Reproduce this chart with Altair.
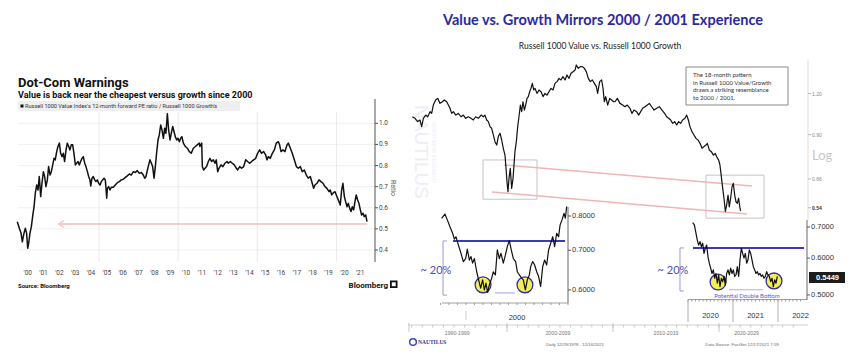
import altair as alt
import pandas as pd

# ---------------- data ----------------
LEFT_YEARS = [1999.84, 1999.97, 2000.08, 2000.16, 2000.22, 2000.29, 2000.35, 2000.43, 2000.50, 2000.56,
              2000.64, 2000.73, 2000.81, 2000.90, 2000.98, 2001.07, 2001.15, 2001.23, 2001.32, 2001.40,
              2001.49, 2001.57, 2001.65, 2001.74, 2001.82, 2001.91, 2001.99, 2002.08, 2002.16, 2002.24,
              2002.33, 2002.41, 2002.50, 2002.58, 2002.67, 2002.75, 2002.83, 2002.92, 2003.00, 2003.09,
              2003.17, 2003.25, 2003.34, 2003.42, 2003.51, 2003.59, 2003.68, 2003.76, 2003.84, 2003.93,
              2004.01, 2004.10, 2004.18, 2004.27, 2004.35, 2004.43, 2004.48, 2004.56, 2004.64, 2004.73,
              2004.81, 2004.90, 2004.98, 2005.07, 2005.15, 2005.23, 2005.32, 2005.40, 2005.44, 2005.49,
              2005.53, 2005.61, 2005.70, 2005.78, 2005.91, 2006.03, 2006.16, 2006.29, 2006.41, 2006.54,
              2006.67, 2006.79, 2006.92, 2007.04, 2007.17, 2007.30, 2007.42, 2007.55, 2007.68, 2007.80,
              2007.89, 2007.97, 2008.06, 2008.14, 2008.22, 2008.31, 2008.39, 2008.48, 2008.56, 2008.64,
              2008.73, 2008.81, 2008.90, 2008.98, 2009.07, 2009.15, 2009.23, 2009.32, 2009.40, 2009.49,
              2009.57, 2009.66, 2009.74, 2009.82, 2009.91, 2009.99, 2010.08, 2010.16, 2010.24, 2010.33,
              2010.46, 2010.58, 2010.71, 2010.83, 2010.96, 2011.09, 2011.21, 2011.34, 2011.38, 2011.49,
              2011.53, 2011.61, 2011.70, 2011.80, 2011.91, 2012.01, 2012.12, 2012.22, 2012.33, 2012.41,
              2012.50, 2012.58, 2012.71, 2012.83, 2012.96, 2013.09, 2013.17, 2013.30, 2013.42, 2013.55,
              2013.68, 2013.76, 2013.89, 2014.01, 2014.14, 2014.27, 2014.39, 2014.52, 2014.64, 2014.77,
              2014.90, 2015.02, 2015.15, 2015.27, 2015.40, 2015.53, 2015.61, 2015.70, 2015.82, 2015.95,
              2016.08, 2016.20, 2016.33, 2016.41, 2016.50, 2016.62, 2016.75, 2016.88, 2016.96, 2017.09,
              2017.21, 2017.34, 2017.47, 2017.59, 2017.72, 2017.84, 2017.97, 2018.10, 2018.22, 2018.35,
              2018.47, 2018.56, 2018.64, 2018.77, 2018.90, 2019.02, 2019.15, 2019.28, 2019.40, 2019.53,
              2019.61, 2019.70, 2019.78, 2019.91, 2020.03, 2020.16, 2020.24, 2020.33, 2020.41, 2020.50,
              2020.58, 2020.67, 2020.75, 2020.84, 2020.92, 2021.00, 2021.09, 2021.17, 2021.25, 2021.34,
              2021.42, 2021.51, 2021.59, 2021.68, 2021.76, 2021.85, 2021.93]
LEFT_VALUES = [0.534, 0.503, 0.479, 0.439, 0.463, 0.487, 0.503, 0.479, 0.408, 0.432,
               0.479, 0.511, 0.558, 0.605, 0.669, 0.708, 0.684, 0.748, 0.653, 0.716,
               0.771, 0.748, 0.700, 0.732, 0.795, 0.755, 0.771, 0.803, 0.834, 0.827,
               0.866, 0.890, 0.906, 0.858, 0.842, 0.858, 0.819, 0.874, 0.906, 0.890,
               0.874, 0.898, 0.898, 0.858, 0.803, 0.811, 0.819, 0.803, 0.819, 0.834,
               0.842, 0.811, 0.795, 0.771, 0.748, 0.732, 0.703, 0.740, 0.748, 0.732,
               0.724, 0.732, 0.716, 0.708, 0.724, 0.732, 0.740, 0.732, 0.697, 0.645,
               0.692, 0.700, 0.684, 0.697, 0.697, 0.708, 0.719, 0.724, 0.732, 0.735,
               0.744, 0.751, 0.760, 0.755, 0.771, 0.767, 0.776, 0.763, 0.767, 0.755,
               0.740, 0.748, 0.779, 0.803, 0.827, 0.811, 0.795, 0.740, 0.795, 0.858,
               0.921, 0.945, 0.992, 0.969, 0.929, 0.977, 0.953, 1.045, 0.969, 0.921,
               0.953, 0.985, 0.961, 0.937, 0.921, 0.929, 0.913, 0.929, 0.937, 0.906,
               0.890, 0.882, 0.866, 0.858, 0.882, 0.890, 0.898, 0.906, 0.890, 0.906,
               0.795, 0.779, 0.787, 0.795, 0.819, 0.834, 0.819, 0.827, 0.811, 0.827,
               0.771, 0.787, 0.803, 0.795, 0.811, 0.819, 0.811, 0.819, 0.811, 0.803,
               0.787, 0.779, 0.795, 0.787, 0.795, 0.827, 0.819, 0.811, 0.819, 0.827,
               0.834, 0.858, 0.874, 0.858, 0.866, 0.850, 0.827, 0.842, 0.834, 0.858,
               0.874, 0.906, 0.913, 0.898, 0.866, 0.874, 0.866, 0.898, 0.906, 0.882,
               0.858, 0.827, 0.795, 0.787, 0.795, 0.771, 0.779, 0.755, 0.740, 0.748,
               0.716, 0.692, 0.708, 0.716, 0.732, 0.724, 0.716, 0.700, 0.692, 0.676,
               0.684, 0.661, 0.669, 0.676, 0.653, 0.629, 0.613, 0.684, 0.716, 0.653,
               0.629, 0.605, 0.621, 0.597, 0.582, 0.605, 0.590, 0.629, 0.661, 0.637,
               0.621, 0.590, 0.566, 0.574, 0.558, 0.566, 0.534]

MAIN_YEARS = [1991.07, 1991.32, 1991.57, 1991.79, 1991.95, 1992.11, 1992.33, 1992.52, 1992.74, 1992.89,
              1993.05, 1993.27, 1993.46, 1993.68, 1993.90, 1994.09, 1994.31, 1994.47, 1994.62, 1994.78,
              1994.94, 1995.16, 1995.41, 1995.66, 1995.88, 1996.10, 1996.35, 1996.60, 1996.82, 1997.04,
              1997.30, 1997.55, 1997.77, 1997.92, 1998.08, 1998.24, 1998.40, 1998.55, 1998.71, 1998.87,
              1999.03, 1999.18, 1999.34, 1999.50, 1999.65, 1999.81, 1999.91, 2000.00, 2000.09, 2000.19,
              2000.31, 2000.44, 2000.57, 2000.66, 2000.75, 2000.88, 2001.01, 2001.13, 2001.26, 2001.38,
              2001.51, 2001.64, 2001.76, 2001.89, 2002.01, 2002.14, 2002.26, 2002.39, 2002.52, 2002.64,
              2002.83, 2003.02, 2003.21, 2003.40, 2003.58, 2003.77, 2003.96, 2004.15, 2004.34, 2004.53,
              2004.72, 2004.91, 2005.09, 2005.28, 2005.47, 2005.66, 2005.85, 2006.04, 2006.23, 2006.42,
              2006.54, 2006.73, 2006.92, 2007.11, 2007.30, 2007.48, 2007.67, 2007.86, 2008.05, 2008.24,
              2008.43, 2008.55, 2008.74, 2008.93, 2009.06, 2009.18, 2009.31, 2009.50, 2009.69, 2009.87,
              2010.06, 2010.19, 2010.41, 2010.66, 2010.91, 2011.13, 2011.35, 2011.60, 2011.79, 2011.98,
              2012.23, 2012.42, 2012.61, 2012.80, 2013.02, 2013.24, 2013.43, 2013.65, 2013.87, 2014.12,
              2014.37, 2014.62, 2014.87, 2015.06, 2015.25, 2015.44, 2015.63, 2015.82, 2016.01, 2016.19,
              2016.38, 2016.57, 2016.79, 2016.95, 2017.11, 2017.26, 2017.45, 2017.64, 2017.83, 2018.02,
              2018.21, 2018.40, 2018.58, 2018.77, 2018.90, 2019.09, 2019.28, 2019.47, 2019.65, 2019.78,
              2019.97, 2020.09, 2020.22, 2020.35, 2020.47, 2020.60, 2020.72, 2020.85, 2020.97, 2021.10,
              2021.23, 2021.35, 2021.48, 2021.60, 2021.73, 2021.85, 2021.98, 2022.04]
MAIN_VALUES = [1.020, 1.009, 0.986, 0.997, 0.952, 1.009, 1.032, 1.020, 1.057, 1.044,
               1.107, 1.147, 1.160, 1.120, 1.133, 1.147, 1.133, 1.107, 1.082, 1.044,
               1.057, 1.032, 1.044, 1.020, 1.032, 1.009, 1.020, 1.009, 0.997, 1.020,
               1.009, 1.032, 1.020, 1.032, 0.997, 0.986, 0.952, 0.941, 0.898, 0.857,
               0.837, 0.888, 0.909, 0.867, 0.818, 0.780, 0.711, 0.647, 0.604, 0.663,
               0.711, 0.618, 0.663, 0.728, 0.799, 0.857, 0.952, 1.020, 1.107, 1.057,
               1.133, 1.069, 1.107, 1.160, 1.174, 1.215, 1.244, 1.288, 1.230, 1.244,
               1.201, 1.230, 1.215, 1.174, 1.201, 1.187, 1.215, 1.244, 1.230, 1.288,
               1.304, 1.334, 1.319, 1.350, 1.319, 1.366, 1.334, 1.382, 1.398, 1.414,
               1.465, 1.431, 1.448, 1.448, 1.431, 1.398, 1.334, 1.304, 1.319, 1.288,
               1.259, 1.201, 1.304, 1.319, 1.244, 1.133, 1.174, 1.107, 1.160, 1.147,
               1.133, 1.133, 1.160, 1.120, 1.107, 1.094, 1.107, 1.082, 1.044, 1.069,
               1.057, 1.032, 1.057, 1.082, 1.094, 1.107, 1.120, 1.094, 1.069, 1.082,
               1.094, 1.069, 1.044, 1.020, 1.009, 0.997, 0.974, 0.986, 0.963, 0.986,
               0.974, 0.997, 1.009, 1.032, 0.997, 0.952, 0.919, 0.898, 0.877, 0.867,
               0.847, 0.818, 0.828, 0.837, 0.847, 0.808, 0.799, 0.780, 0.789, 0.771,
               0.753, 0.728, 0.671, 0.618, 0.577, 0.526, 0.550, 0.590, 0.543, 0.577,
               0.625, 0.640, 0.590, 0.563, 0.557, 0.577, 0.538, 0.528]

INSET1_YEARS = [1999.761, 1999.794, 1999.817, 1999.843, 1999.869, 1999.886, 1999.902, 1999.925, 1999.951, 1999.974,
                1999.997, 2000.013, 2000.033, 2000.049, 2000.065, 2000.082, 2000.105, 2000.124, 2000.144, 2000.163,
                2000.180, 2000.196, 2000.212, 2000.229, 2000.252, 2000.268, 2000.288, 2000.307, 2000.327, 2000.343,
                2000.366, 2000.386, 2000.405, 2000.425, 2000.444, 2000.464, 2000.487, 2000.503, 2000.523, 2000.546,
                2000.562, 2000.582, 2000.601, 2000.621, 2000.634, 2000.654, 2000.673, 2000.693, 2000.712, 2000.732,
                2000.752, 2000.771, 2000.791, 2000.810, 2000.830, 2000.850, 2000.869, 2000.889, 2000.908, 2000.922,
                2000.941, 2000.961, 2000.974, 2000.987]
INSET1_VALUES = [0.793, 0.806, 0.788, 0.767, 0.748, 0.731, 0.738, 0.715, 0.692, 0.670,
                 0.678, 0.703, 0.674, 0.683, 0.666, 0.678, 0.644, 0.624, 0.604, 0.624,
                 0.600, 0.616, 0.594, 0.612, 0.628, 0.644, 0.636, 0.701, 0.678, 0.692,
                 0.666, 0.687, 0.710, 0.727, 0.701, 0.678, 0.670, 0.644, 0.636, 0.628,
                 0.624, 0.600, 0.624, 0.636, 0.657, 0.670, 0.661, 0.644, 0.632, 0.608,
                 0.657, 0.674, 0.661, 0.701, 0.719, 0.738, 0.710, 0.748, 0.738, 0.772,
                 0.788, 0.808, 0.793, 0.830]

INSET2_YEARS = [2020.104, 2020.141, 2020.178, 2020.207, 2020.237, 2020.267, 2020.296, 2020.326, 2020.356, 2020.385,
                2020.415, 2020.444, 2020.474, 2020.504, 2020.533, 2020.563, 2020.593, 2020.622, 2020.652, 2020.681,
                2020.711, 2020.741, 2020.770, 2020.800, 2020.830, 2020.859, 2020.889, 2020.919, 2020.948, 2020.978,
                2021.007, 2021.037, 2021.067, 2021.096, 2021.126, 2021.156, 2021.185, 2021.215, 2021.244, 2021.274,
                2021.304, 2021.333, 2021.363, 2021.393, 2021.422, 2021.452, 2021.481, 2021.511, 2021.541, 2021.570,
                2021.600, 2021.630, 2021.659, 2021.689, 2021.719, 2021.748, 2021.778, 2021.807, 2021.837, 2021.867,
                2021.896, 2021.926, 2021.956, 2021.985]
INSET2_VALUES = [0.715, 0.707, 0.678, 0.656, 0.640, 0.651, 0.635, 0.646, 0.614, 0.630,
                 0.640, 0.604, 0.585, 0.571, 0.556, 0.566, 0.543, 0.556, 0.530, 0.552,
                 0.521, 0.543, 0.534, 0.548, 0.525, 0.556, 0.566, 0.552, 0.571, 0.556,
                 0.566, 0.548, 0.552, 0.575, 0.548, 0.595, 0.630, 0.614, 0.600, 0.614,
                 0.585, 0.595, 0.625, 0.614, 0.595, 0.575, 0.566, 0.556, 0.561, 0.552,
                 0.556, 0.548, 0.552, 0.543, 0.548, 0.561, 0.552, 0.548, 0.534, 0.543,
                 0.521, 0.539, 0.530, 0.548]

LEFT_Y_TICKS = [0.4, 0.5, 0.6, 0.7, 0.8, 0.9, 1.0]
LEFT_Y_LABELS = ["0.4", "0.5", "0.6", "0.7", "0.8", "0.9", "1.0"]
LEFT_X_LABELS = ["'00", "'01", "'02", "'03", "'04", "'05", "'06", "'07", "'08", "'09", "'10",
                 "'11", "'12", "'13", "'14", "'15", "'16", "'17", "'18", "'19", "'20", "'21"]
LEFT_X_LABEL_POS = [y + 0.5 for y in range(2000, 2022)]
LEFT_GRID_YEARS = [2005, 2010, 2015, 2020]
ARROW_LEVEL = 0.523
ARROW_START, ARROW_END = 2002.58, 2021.95

MAIN_Y_TICKS = [1.20, 0.90, 0.66, 0.54]
MAIN_Y_LABELS = ["1.20", "0.90", "0.66", "0.54"]
DECADE_TICKS = [1990.75, 2000, 2010, 2020]
DECADE_LABEL_POS = [1995.3, 2004.8, 2015.0, 2022.6]
DECADE_LABELS = ["1990-1999", "2000-2009", "2010-2019", "2020-2029"]
MINOR_YEAR_TICKS = list(range(1991, 2028))
TREND_UPPER = [(1999.72, 0.728), (2023.11, 0.628)]
TREND_LOWER = [(1998.58, 0.603), (2022.64, 0.517)]
BOX_2000 = (1997.74, 2002.83, 0.573, 0.754)
BOX_2021 = (2018.77, 2024.25, 0.502, 0.678)

INSET1_Y_TICKS = [0.8, 0.7, 0.6]
INSET1_Y_LABELS = ["0.8000", "0.7000", "0.6000"]
INSET1_RESIST = (1999.873, 2000.971, 0.726)
INSET1_FLOOR = (2000.284, 2000.48, 0.593)
INSET1_CIRCLES = [(2000.167, 0.612), (2000.578, 0.612)]
INSET1_BRACKET = (1999.775, 1999.814, 0.588, 0.726)
INSET1_MONTHS = [1999.75 + k / 12 for k in range(16)]

INSET2_Y_TICKS = [0.7, 0.6, 0.5]
INSET2_Y_LABELS = ["0.7000", "0.6000", "0.5000"]
INSET2_RESIST = (2020.111, 2022.578, 0.631)
INSET2_FLOOR = (2020.911, 2021.667, 0.513)
INSET2_CIRCLES = [(2020.667, 0.533), (2021.911, 0.536)]
INSET2_BRACKET = (2019.822, 2019.911, 0.510, 0.631)
INSET2_YEAR_SEPS = [2020, 2021, 2022]
INSET2_YEAR_LABELS = ["2020", "2021", "2022"]
INSET2_YEAR_LABEL_POS = [2020.5, 2021.5, 2022.5]
INSET2_MONTHS = [2020 + k / 12 for k in range(31)]
LAST_VALUE = 0.5449

# ---------------- helpers ----------------
M = 8  # page margin


def P(v):
    return v - M


def lin(dom, r0, r1):
    return alt.Scale(domain=dom, range=[P(r0), P(r1)], zero=False, nice=False)


def logs(dom, r0, r1):
    return alt.Scale(type="log", domain=dom, range=[P(r0), P(r1)], nice=False)


LX = lin([2000, 2022], 19.8, 368.1)
LY = lin([0.4, 1.0], 250.0, 123.3)
RX = lin([1990, 2030], 401.0, 825.0)
RY = logs([0.5, 1.5], 218.7, 61.6)
I1X = lin([1999.76, 2001.0], 441.5, 568.0)
I1Y = logs([0.57, 0.835], 303.1, 205.0)
I2X = lin([2020, 2022.64], 688.0, 806.8)
I2Y = logs([0.49, 0.725], 299.0, 219.9)

DUMMY = pd.DataFrame({"d": [0]})
layers = []


def label(text, x, y, size, color="#000", weight="normal", font="Liberation Sans",
          align="left", baseline="alphabetic", angle=None, line_height=None):
    kw = dict(text=text, fontSize=size, color=color, fontWeight=weight, font=font,
              align=align, baseline=baseline)
    if angle is not None:
        kw["angle"] = angle
    if line_height is not None:
        kw["lineHeight"] = line_height
    return alt.Chart(DUMMY).mark_text(**kw).encode(x=alt.value(P(x)), y=alt.value(P(y)))


def box(x0, x1, y0, y1, fill="transparent", stroke=None, sw=1.0):
    kw = dict(fill=fill)
    if stroke:
        kw.update(stroke=stroke, strokeWidth=sw)
    return alt.Chart(DUMMY).mark_rect(**kw).encode(
        x=alt.value(P(x0)), x2=alt.value(P(x1)), y=alt.value(P(y0)), y2=alt.value(P(y1)))


def seg(x0, y0, x1, y1, color, sw=1.0):
    return alt.Chart(DUMMY).mark_rule(color=color, strokeWidth=sw).encode(
        x=alt.value(P(x0)), x2=alt.value(P(x1)), y=alt.value(P(y0)), y2=alt.value(P(y1)))


def dseg(xs, ys, x0, x1, y0, y1, color, sw=1.0):
    df = pd.DataFrame({"x": [x0], "x2": [x1], "y": [y0], "y2": [y1]})
    return alt.Chart(df).mark_rule(color=color, strokeWidth=sw).encode(
        x=alt.X("x:Q", scale=xs, axis=None), x2="x2:Q",
        y=alt.Y("y:Q", scale=ys, axis=None), y2="y2:Q")


def dline(years, values, xs, ys, color="black", sw=1.0):
    df = pd.DataFrame({"x": years, "y": values})
    return alt.Chart(df).mark_line(color=color, strokeWidth=sw, strokeJoin="round").encode(
        x=alt.X("x:Q", scale=xs, axis=None), y=alt.Y("y:Q", scale=ys, axis=None))


def hrules(values, ys, x0, x1, color, sw=1.0):
    df = pd.DataFrame({"y": values})
    return alt.Chart(df).mark_rule(color=color, strokeWidth=sw).encode(
        x=alt.value(P(x0)), x2=alt.value(P(x1)), y=alt.Y("y:Q", scale=ys, axis=None))


def vrules(values, xs, y0, y1, color, sw=1.0):
    df = pd.DataFrame({"x": values})
    return alt.Chart(df).mark_rule(color=color, strokeWidth=sw).encode(
        x=alt.X("x:Q", scale=xs, axis=None), y=alt.value(P(y0)), y2=alt.value(P(y1)))


def ylabels(values, texts, ys, x, size, color, weight="normal", font="Liberation Sans"):
    df = pd.DataFrame({"y": values, "t": texts})
    return alt.Chart(df).mark_text(align="left", baseline="middle", fontSize=size, color=color,
                                   fontWeight=weight, font=font).encode(
        x=alt.value(P(x)), y=alt.Y("y:Q", scale=ys, axis=None), text="t:N")


def xlabels(values, texts, xs, y, size, color, weight="normal", font="Liberation Sans"):
    df = pd.DataFrame({"x": values, "t": texts})
    return alt.Chart(df).mark_text(align="center", baseline="alphabetic", fontSize=size, color=color,
                                   fontWeight=weight, font=font).encode(
        x=alt.X("x:Q", scale=xs, axis=None), y=alt.value(P(y)), text="t:N")


def circles(points, xs, ys, size=250):
    df = pd.DataFrame({"x": [p[0] for p in points], "y": [p[1] for p in points]})
    return alt.Chart(df).mark_point(shape="circle", filled=True, fill="#f3ee55", stroke="#2b2bb0",
                                    strokeWidth=1.3, size=size, opacity=1).encode(
        x=alt.X("x:Q", scale=xs, axis=None), y=alt.Y("y:Q", scale=ys, axis=None))


# ================= LEFT PANEL (Bloomberg) =================
layers.append(label("Dot-Com Warnings", 18, 87, 13, "#111", "bold", "Roboto"))
layers.append(label("Value is back near the cheapest versus growth since 2000", 18, 98, 9, "#111", "bold", "Roboto"))
layers.append(hrules(LEFT_Y_TICKS, LY, 18, 375, "#ececec", 0.8))
layers.append(vrules(LEFT_GRID_YEARS, LX, 112, 262, "#e4e4e4", 0.8))
layers.append(box(18, 240, 101, 111, fill="#efefef"))
layers.append(box(20.5, 23.5, 104.5, 107.5, fill="#111"))
layers.append(label("Russell 1000 Value Index's 12-month forward PE ratio / Russell 1000 Growth's",
                    25, 108.3, 5.6, "#333", "normal", "Roboto"))
layers.append(dseg(LX, LY, ARROW_START, ARROW_END, ARROW_LEVEL, ARROW_LEVEL, "#f3bcbc", 1.5))
arrow_df = pd.DataFrame({"x": [ARROW_START], "y": [ARROW_LEVEL]})
layers.append(alt.Chart(arrow_df).mark_point(shape="M1,-1L-0.6,0L1,1", filled=False, size=40,
                                             color="#f3bcbc", strokeWidth=1.2, opacity=1).encode(
    x=alt.X("x:Q", scale=LX, axis=None), y=alt.Y("y:Q", scale=LY, axis=None)))
layers.append(dline(LEFT_YEARS, LEFT_VALUES, LX, LY, "#111", 1.5))
layers.append(seg(375, 99, 375, 262, "#555", 1))
layers.append(hrules(LEFT_Y_TICKS, LY, 375, 378, "#555", 1))
layers.append(ylabels(LEFT_Y_TICKS, LEFT_Y_LABELS, LY, 379, 6.5, "#444", font="Roboto"))
layers.append(label("Ratio", 393, 188, 7, "#666", "normal", "Roboto", align="center",
                    baseline="middle", angle=90))
layers.append(xlabels(LEFT_X_LABEL_POS, LEFT_X_LABELS, LX, 275, 6.5, "#444", font="Roboto"))
layers.append(label("Source: Bloomberg", 18, 288, 6, "#111", "bold", "Roboto"))
layers.append(label("Bloomberg", 388, 288, 8, "#111", "bold", "Roboto", align="right"))
layers.append(box(390, 397.5, 280.5, 288, fill="#111"))
layers.append(box(391.8, 395.7, 282.3, 286.2, fill="#fff"))

# ================= RIGHT PANEL (Nautilus) =================
layers.append(label("Value vs. Growth Mirrors 2000 / 2001 Experience", 603, 25, 14.5, "#2a2aa0",
                    "bold", "Lato", align="center"))
layers.append(label("Russell 1000 Value vs. Russell 1000 Growth", 600, 49, 8.5, "#222", "normal",
                    "Lato", align="center"))
# watermark
layers.append(label("NAUTILUS", 421, 152, 19, "#ededf8", "normal", "Liberation Sans",
                    align="center", baseline="middle", angle=90))
layers.append(label("INVESTMENT RESEARCH", 434, 152, 5, "#ededf8", "normal", "Liberation Sans",
                    align="center", baseline="middle", angle=90))
# main y axis
layers.append(seg(808, 60, 808, 220, "#dddddd", 1))
layers.append(hrules(MAIN_Y_TICKS, RY, 808, 811, "#aaaaaa", 0.8))
layers.append(ylabels(MAIN_Y_TICKS[:3], MAIN_Y_LABELS[:3], RY, 812, 5, "#888"))
layers.append(ylabels(MAIN_Y_TICKS[3:], MAIN_Y_LABELS[3:], RY, 812, 5, "#333", "bold"))
layers.append(label("Log", 812, 160, 13, "#c8c8c8", "normal", "Lato"))
# annotation box
layers.append(box(686, 788, 67, 105, fill="#ffffff", stroke="#8a8a8a", sw=1))
layers.append(label(["The 18-month pattern", "in Russell 1000 Value/Growth",
                     "draws a striking resemblance", "to  2000 / 2001."],
                    693, 77, 6, "#333", "normal", "Lato", line_height=7.5))
# gray boxes & pink trend lines
for bx in (BOX_2000, BOX_2021):
    df = pd.DataFrame({"x": [bx[0]], "x2": [bx[1]], "y": [bx[2]], "y2": [bx[3]]})
    layers.append(alt.Chart(df).mark_rect(fill="transparent", stroke="#c4c4c4", strokeWidth=1).encode(
        x=alt.X("x:Q", scale=RX, axis=None), x2="x2:Q",
        y=alt.Y("y:Q", scale=RY, axis=None), y2="y2:Q"))
for tr in (TREND_UPPER, TREND_LOWER):
    layers.append(dline([tr[0][0], tr[1][0]], [tr[0][1], tr[1][1]], RX, RY, "#f2b4b4", 1.5))
layers.append(dline(MAIN_YEARS, MAIN_VALUES, RX, RY, "#111", 1.2))

# ---- inset 1 (2000) ----
layers.append(circles(INSET1_CIRCLES, I1X, I1Y))
layers.append(dseg(I1X, I1Y, INSET1_RESIST[0], INSET1_RESIST[1], INSET1_RESIST[2], INSET1_RESIST[2], "#3a3ab5", 2))
layers.append(dseg(I1X, I1Y, INSET1_FLOOR[0], INSET1_FLOOR[1], INSET1_FLOOR[2], INSET1_FLOOR[2], "#aeb0e6", 1.2))
b = INSET1_BRACKET
layers.append(dseg(I1X, I1Y, b[0], b[0], b[2], b[3], "#9a9ad2", 1))
layers.append(dseg(I1X, I1Y, b[0], b[1], b[2], b[2], "#9a9ad2", 1))
layers.append(dseg(I1X, I1Y, b[0], b[1], b[3], b[3], "#9a9ad2", 1))
layers.append(label("~ 20%", 436, 274, 11, "#4b4bbf", "normal", "Lato", align="center"))
layers.append(dline(INSET1_YEARS, INSET1_VALUES, I1X, I1Y, "#111", 1.2))
layers.append(seg(568, 207, 568, 303, "#666", 1))
layers.append(seg(442, 303, 568, 303, "#888", 0.8))
layers.append(vrules(INSET1_MONTHS, I1X, 303, 305, "#888", 0.8))
layers.append(hrules(INSET1_Y_TICKS, I1Y, 568, 571, "#555", 1))
layers.append(ylabels(INSET1_Y_TICKS, INSET1_Y_LABELS, I1Y, 572, 7.5, "#333"))
layers.append(vrules([2000.0], I1X, 311, 320, "#cccccc", 1))
layers.append(xlabels([2000.5], ["2000"], I1X, 320, 7.5, "#333"))

# ---- inset 2 (2020-2021) ----
layers.append(circles(INSET2_CIRCLES, I2X, I2Y))
layers.append(dseg(I2X, I2Y, INSET2_RESIST[0], INSET2_RESIST[1], INSET2_RESIST[2], INSET2_RESIST[2], "#3a3ab5", 2))
layers.append(dseg(I2X, I2Y, INSET2_FLOOR[0], INSET2_FLOOR[1], INSET2_FLOOR[2], INSET2_FLOOR[2], "#aeb0e6", 1.2))
b = INSET2_BRACKET
layers.append(dseg(I2X, I2Y, b[0], b[0], b[2], b[3], "#9a9ad2", 1))
layers.append(dseg(I2X, I2Y, b[0], b[1], b[2], b[2], "#9a9ad2", 1))
layers.append(dseg(I2X, I2Y, b[0], b[1], b[3], b[3], "#9a9ad2", 1))
layers.append(label("~ 20%", 673, 274, 11, "#4b4bbf", "normal", "Lato", align="center"))
layers.append(label("Potential Double Bottom", 747, 297.5, 6, "#5a5ac8", "normal", "Lato", align="center"))
layers.append(dline(INSET2_YEARS, INSET2_VALUES, I2X, I2Y, "#111", 1.2))
layers.append(seg(807, 220, 807, 300, "#666", 1))
layers.append(seg(688, 299.5, 807, 299.5, "#888", 0.8))
layers.append(vrules(INSET2_MONTHS, I2X, 299.5, 301.5, "#888", 0.8))
layers.append(vrules(INSET2_YEAR_SEPS, I2X, 300, 322, "#999", 0.8))
layers.append(hrules(INSET2_Y_TICKS, I2Y, 807, 810, "#555", 1))
layers.append(ylabels(INSET2_Y_TICKS, INSET2_Y_LABELS, I2Y, 811, 7.5, "#333"))
layers.append(xlabels(INSET2_YEAR_LABEL_POS, INSET2_YEAR_LABELS, I2X, 318, 7.5, "#333"))
last_df = pd.DataFrame({"y": [LAST_VALUE], "t": [f"{LAST_VALUE:.4f}"]})
layers.append(alt.Chart(last_df).mark_rule(color="#1c1c1c", strokeWidth=11).encode(
    x=alt.value(P(809)), x2=alt.value(P(846)), y=alt.Y("y:Q", scale=I2Y, axis=None)))
layers.append(alt.Chart(last_df).mark_text(color="#fff", fontWeight="bold", fontSize=7.5,
                                           font="Liberation Sans", align="center", baseline="middle").encode(
    x=alt.value(P(827.5)), y=alt.Y("y:Q", scale=I2Y, axis=None), text="t:N"))

# ---- bottom decade axis & footer ----
layers.append(seg(408, 325, 808, 325, "#d0d0d0", 1))
layers.append(vrules(MINOR_YEAR_TICKS, RX, 325, 327.5, "#bbbbbb", 0.8))
layers.append(vrules(DECADE_TICKS, RX, 323, 332, "#bbbbbb", 0.8))
layers.append(xlabels(DECADE_LABEL_POS, DECADE_LABELS, RX, 335, 5.2, "#777"))
layers.append(alt.Chart(DUMMY).mark_point(shape="circle", filled=False, size=45, color="#3a4aa8",
                                          strokeWidth=1.5, opacity=1).encode(
    x=alt.value(P(413)), y=alt.value(P(342))))
layers.append(label("NAUTILUS", 418, 344, 5.5, "#2b3a9a", "bold", "Liberation Serif"))
layers.append(label("Daily      12/29/1978 - 12/16/2021", 575, 346, 4.3, "#666", align="center"))
layers.append(label("Data Source: FactSet      12/17/2021 7:59", 742, 346, 4.3, "#666", align="center"))

chart = alt.layer(*layers).resolve_scale(x="independent", y="independent").properties(
    width=837, height=341, padding=0, background="white",
    autosize=alt.AutoSizeParams(type="none")
).configure_view(strokeWidth=0)

chart.save("out.html", embed_options={"renderer": "svg", "actions": False})
